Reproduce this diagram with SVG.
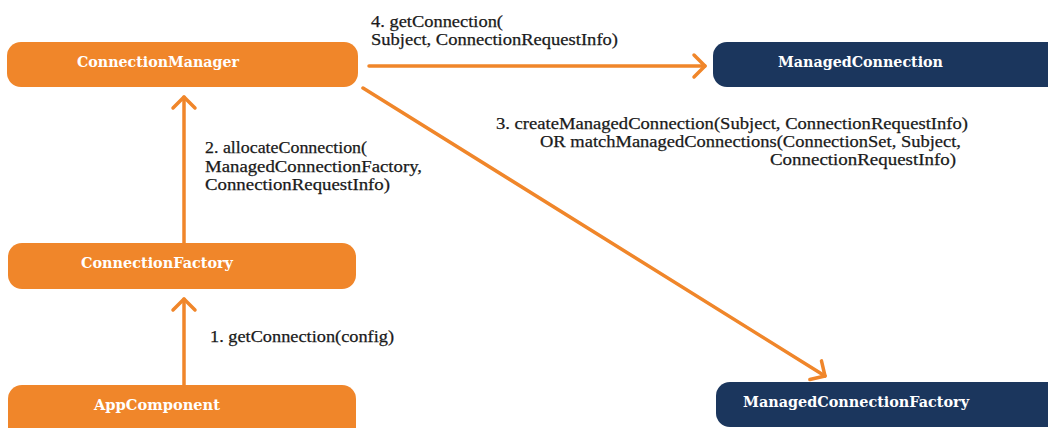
<svg xmlns="http://www.w3.org/2000/svg" width="1048" height="428" viewBox="0 0 1048 428">
<style>
.o{fill:#F0862A}
.n{fill:#1B365D}
.nt{font-family:"DejaVu Serif","Liberation Serif",serif;font-weight:bold;font-size:15.5px;fill:#FFFFFF}
.lb{font-family:"Liberation Serif","DejaVu Serif",serif;font-size:16.5px;fill:#1a1a1a;stroke:#1a1a1a;stroke-width:0.25}
.c{fill:none;stroke:#F0862A;stroke-width:3.5;stroke-linecap:round}
</style>
<defs>
<marker id="ah" markerUnits="userSpaceOnUse" markerWidth="30" markerHeight="30" refX="0" refY="0" viewBox="-15 -15 30 30" orient="auto" overflow="visible">
<path d="M-11,-11 L0,0 L-11,11" fill="none" stroke="#F0862A" stroke-width="3.5" stroke-linecap="round" stroke-linejoin="round"/>
</marker>
</defs>
<rect width="1048" height="428" fill="#FFFFFF"/>
<g id="connectors">
<line class="c" x1="184" y1="385" x2="184" y2="299" marker-end="url(#ah)"/>
<line class="c" x1="184" y1="243" x2="184" y2="97" marker-end="url(#ah)"/>
<line class="c" x1="369" y1="66" x2="705" y2="66" marker-end="url(#ah)"/>
<line class="c" x1="363" y1="88" x2="825" y2="376" marker-end="url(#ah)"/>
</g>
<g id="node-connection-manager">
<rect class="o" x="7" y="42" width="351" height="45" rx="14"/>
<text class="nt" x="77" y="67" textLength="162" lengthAdjust="spacingAndGlyphs">ConnectionManager</text>
</g>
<g id="node-managed-connection">
<rect class="n" x="713" y="42" width="350" height="45" rx="14"/>
<text class="nt" x="778" y="67" textLength="165" lengthAdjust="spacingAndGlyphs">ManagedConnection</text>
</g>
<g id="node-connection-factory">
<rect class="o" x="8" y="243" width="348" height="46" rx="14"/>
<text class="nt" x="81" y="268" textLength="152" lengthAdjust="spacingAndGlyphs">ConnectionFactory</text>
</g>
<g id="node-app-component">
<rect class="o" x="8" y="385" width="348" height="58" rx="14"/>
<text class="nt" x="94" y="410" textLength="126" lengthAdjust="spacingAndGlyphs">AppComponent</text>
</g>
<g id="node-managed-connection-factory">
<rect class="n" x="716" y="382" width="350" height="45" rx="14"/>
<text class="nt" x="743" y="407" textLength="226" lengthAdjust="spacingAndGlyphs">ManagedConnectionFactory</text>
</g>
<g id="labels">
<text class="lb" x="371" y="27" textLength="132" lengthAdjust="spacingAndGlyphs">4. getConnection(</text>
<text class="lb" x="371" y="45" textLength="247" lengthAdjust="spacingAndGlyphs">Subject, ConnectionRequestInfo)</text>
<text class="lb" x="496" y="129" textLength="472" lengthAdjust="spacingAndGlyphs">3. createManagedConnection(Subject, ConnectionRequestInfo)</text>
<text class="lb" x="540" y="147" textLength="421" lengthAdjust="spacingAndGlyphs">OR matchManagedConnections(ConnectionSet, Subject,</text>
<text class="lb" x="770" y="165" textLength="186" lengthAdjust="spacingAndGlyphs">ConnectionRequestInfo)</text>
<text class="lb" x="205" y="153" textLength="162" lengthAdjust="spacingAndGlyphs">2. allocateConnection(</text>
<text class="lb" x="205" y="172" textLength="217" lengthAdjust="spacingAndGlyphs">ManagedConnectionFactory,</text>
<text class="lb" x="205" y="190" textLength="185" lengthAdjust="spacingAndGlyphs">ConnectionRequestInfo)</text>
<text class="lb" x="210" y="342" textLength="184" lengthAdjust="spacingAndGlyphs">1. getConnection(config)</text>
</g>
</svg>
